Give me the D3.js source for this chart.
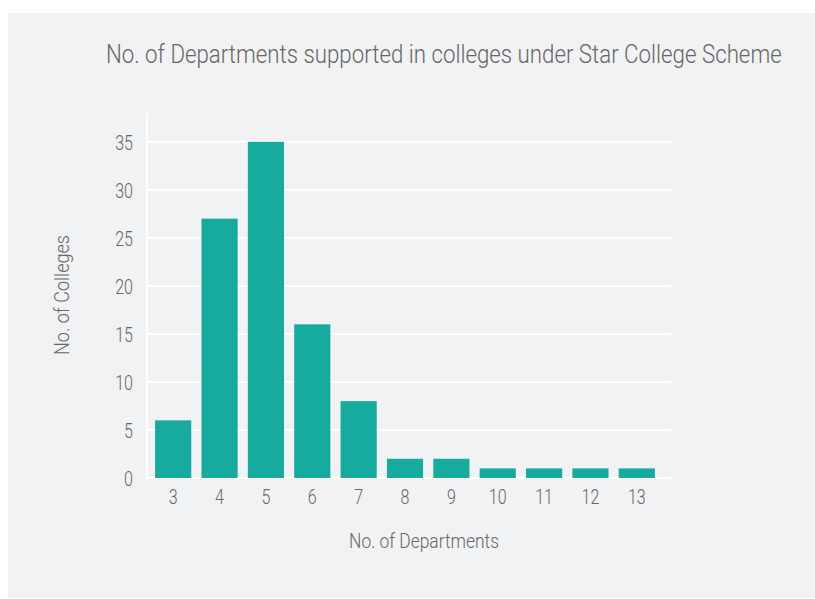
<!DOCTYPE html>
<html>
<head>
<meta charset="utf-8">
<script src="https://cdnjs.cloudflare.com/ajax/libs/d3/7.8.5/d3.min.js"></script>
<style>
  html, body { margin: 0; padding: 0; background: #ffffff; }
  svg { display: block; }
  text { font-family: "Roboto", "Liberation Sans", sans-serif; font-weight: 300; fill: #666666; }
</style>
</head>
<body>
<svg id="chart" width="815" height="599"></svg>
<script>
const categories = ["3", "4", "5", "6", "7", "8", "9", "10", "11", "12", "13"];
const values = [6, 27, 35, 16, 8, 2, 2, 1, 1, 1, 1];
const yTicks = [0, 5, 10, 15, 20, 25, 30, 35];
const titleText = "No. of Departments supported in colleges under Star College Scheme";
const xLabel = "No. of Departments";
const yLabel = "No. of Colleges";

const svg = d3.select("#chart");
const SX = 0.8; // horizontal condensing of the text

// panel background
svg.append("rect").attr("x", 8).attr("y", 13).attr("width", 807).attr("height", 585)
  .attr("fill", "#f1f2f4");

const x = d3.scaleBand().domain(categories).range([150, 660])
  .paddingInner(0.22).paddingOuter(0.11);
const y = d3.scaleLinear().domain([0, 38]).range([478, 113]);

const gridLeft = 147, gridRight = 671;

// gridlines
svg.append("g").selectAll("line").data(yTicks).join("line")
  .attr("x1", gridLeft).attr("x2", gridRight)
  .attr("y1", d => y(d)).attr("y2", d => y(d))
  .attr("stroke", "#ffffff").attr("stroke-width", 2);

// y axis line
svg.append("line").attr("x1", gridLeft).attr("x2", gridLeft)
  .attr("y1", y(38)).attr("y2", y(0) + 2)
  .attr("stroke", "#ffffff").attr("stroke-width", 2);

// bars
svg.append("g").selectAll("rect").data(values).join("rect")
  .attr("x", (d, i) => x(categories[i]))
  .attr("width", x.bandwidth())
  .attr("y", d => y(d))
  .attr("height", d => y(0) - y(d))
  .attr("fill", "#17aa9e");

// y axis
const yAxis = d3.axisLeft(y).tickValues(yTicks).tickSize(0).tickPadding(14);
const gy = svg.append("g").attr("transform", `translate(${gridLeft},0)`).call(yAxis);
gy.select(".domain").remove();
gy.selectAll("text")
  .attr("font-size", 20).attr("fill", "#666666").attr("font-family", null)
  .attr("x", 0).attr("dy", "0.36em")
  .attr("transform", `translate(-14,0) scale(${SX},1)`);

// x axis
const xAxis = d3.axisBottom(x).tickSize(0).tickPadding(12);
const gx = svg.append("g").attr("transform", `translate(0,${y(0)})`).call(xAxis);
gx.select(".domain").remove();
gx.selectAll("text")
  .attr("font-size", 20).attr("fill", "#666666").attr("font-family", null)
  .attr("y", 0).attr("dy", "0.71em")
  .attr("transform", `translate(0,12) scale(${SX},1)`);

// helper: condense a text horizontally so it spans the target width
function fitScale(sel, tx, ty, target, rot) {
  const w = sel.node().getComputedTextLength();
  const s = target / w;
  sel.attr("transform", `translate(${tx},${ty})${rot ? " rotate(" + rot + ")" : ""} scale(${s.toFixed(4)},1)`);
}

// title
const t = svg.append("text").attr("font-size", 25.5).text(titleText);
fitScale(t, 106, 63, 676);

// axis titles
const xl = svg.append("text").attr("text-anchor", "middle").attr("font-size", 19.5).text(xLabel);
fitScale(xl, 424, 548, 150);
const yl = svg.append("text").attr("text-anchor", "middle").attr("font-size", 19.5).text(yLabel);
fitScale(yl, 69, 295, 120, -90);
</script>
</body>
</html>
